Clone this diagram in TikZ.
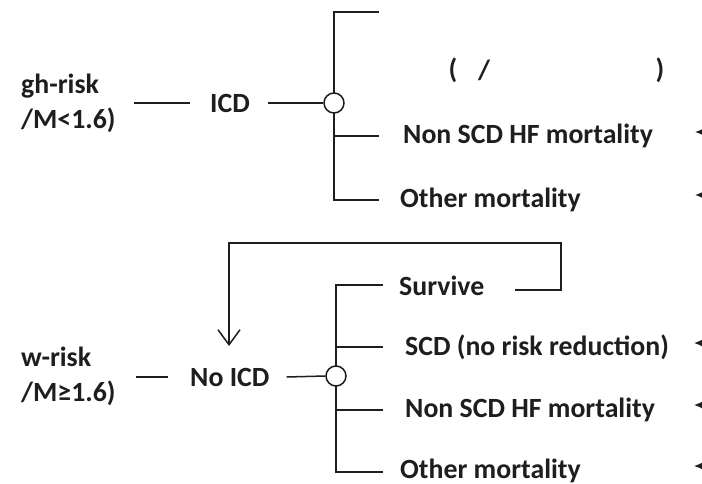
\documentclass[tikz,border=0pt]{standalone}
\usepackage{fontspec}
\setmainfont{Carlito}
\usetikzlibrary{arrows.meta}
\definecolor{ink}{HTML}{1E1E1E}
\begin{document}
\begin{tikzpicture}[x=1pt,y=-1pt,
  wire/.style={line width=1.5pt, draw=ink},
  txt/.style={font=\fontsize{27.8}{35}\selectfont\bfseries, text=ink, inner sep=0pt, anchor=west},
  chance/.style={circle, draw=ink, line width=1.5pt, fill=white, minimum size=20pt, inner sep=0pt},
  cuthead/.style={wire, -{Latex[length=10pt,width=9pt]}},
  loopback/.style={wire, -{Straight Barb[length=15pt,width=22pt,line width=1.5pt]}}]
\useasboundingbox (0,0) rectangle (702,483);
\clip (0,0) rectangle (702,483);
\fill[white] (0,0) rectangle (702,483);

% ---------- top tree ----------
\node[txt, align=left] (hr) at (21,103) {gh-risk\\/M<1.6)};
\node[txt] (icd) at (210,103) {ICD};
\coordinate (t1) at (334,12);
\coordinate (t3) at (334,136);
\coordinate (t4) at (334,200);
\coordinate (a1) at (379,12);
\coordinate (a3) at (379,136);
\coordinate (a4) at (379,200);
\draw[wire] (a1) -- (t1) -- (t4) -- (a4);
\draw[wire] (t3) -- (a3);
\node[chance] (c1) at (334,103) {};
\draw[wire] ([xshift=18pt]hr.east |- icd.west) -- ([xshift=-20pt]icd.west);
\draw[wire] ([xshift=18pt]icd.east) -- (c1.west);

\node[txt, anchor=center] (p1) at (453,70) {(};
\node[txt, anchor=center] (p2) at (484,70) {/};
\node[txt, anchor=center] (p3) at (660,70) {)};
\node[txt] (nh1) at (403,136) {Non SCD HF mortality};
\node[txt] (om1) at (400,200) {Other mortality};

\coordinate (r1a) at (740,132);
\coordinate (r1b) at (695,132);
\coordinate (r2a) at (740,195);
\coordinate (r2b) at (695,195);
\draw[cuthead] (r1a) -- (r1b);
\draw[cuthead] (r2a) -- (r2b);

% ---------- bottom tree ----------
\node[txt, align=left] (lr) at (21,376) {w-risk\\/M≥1.6)};
\node[txt] (noicd) at (190,377) {No ICD};
\coordinate (b1) at (336,285);
\coordinate (b2) at (336,347);
\coordinate (b3) at (336,410);
\coordinate (b4) at (336,472);
\coordinate (e1) at (383,285);
\coordinate (e2) at (383,347);
\coordinate (e3) at (383,410);
\coordinate (e4) at (383,472);
\draw[wire] (e1) -- (b1) -- (b4) -- (e4);
\draw[wire] (b2) -- (e2);
\draw[wire] (b3) -- (e3);
\node[chance] (c2) at (336,376) {};
\draw[wire] ([xshift=20pt]lr.east |- noicd.west) -- ([xshift=-22pt]noicd.west);
\draw[wire] ([xshift=17pt]noicd.east) -- (c2.west);

\node[txt] (sv) at (399,286) {Survive};
\node[txt] (scd) at (405,347) {SCD (no risk reduction)};
\node[txt] (nh2) at (405,410) {Non SCD HF mortality};
\node[txt] (om2) at (400,471) {Other mortality};

% loop back from Survive to No ICD
\coordinate (l1) at (515,290);
\coordinate (l2) at (561,290);
\coordinate (l3) at (561,243);
\coordinate (l4) at (229,243);
\coordinate (l5) at (229,346);
\draw[loopback] (l1) -- (l2) -- (l3) -- (l4) -- (l5);

\coordinate (r3a) at (740,343);
\coordinate (r3b) at (694,343);
\coordinate (r4a) at (740,405);
\coordinate (r4b) at (694,405);
\coordinate (r5a) at (740,466);
\coordinate (r5b) at (694,466);
\draw[cuthead] (r3a) -- (r3b);
\draw[cuthead] (r4a) -- (r4b);
\draw[cuthead] (r5a) -- (r5b);
\end{tikzpicture}
\end{document}
